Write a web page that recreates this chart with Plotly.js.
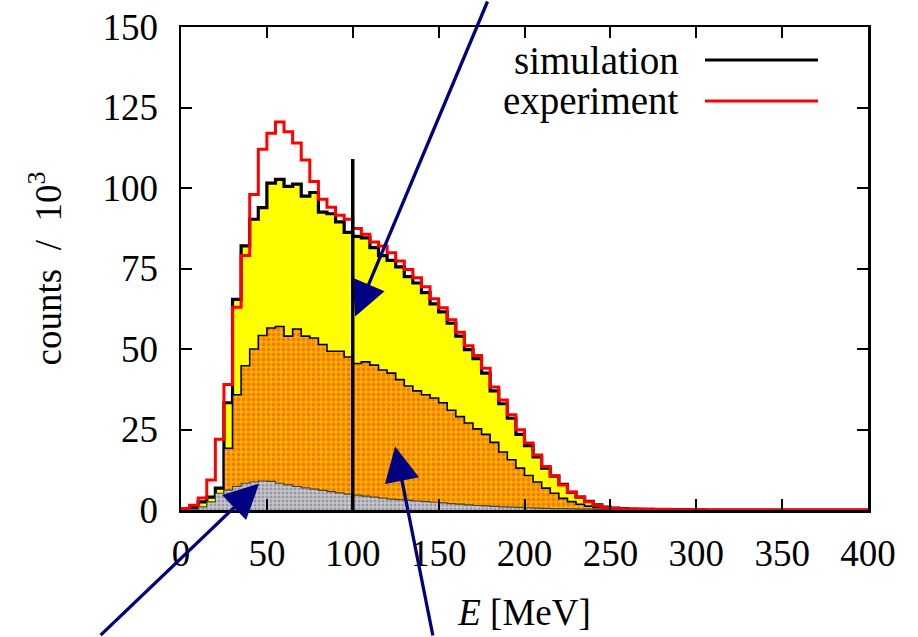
<!DOCTYPE html>
<html><head><meta charset="utf-8">
<script src="https://cdn.plot.ly/plotly-3.0.1.min.js"></script>
<style>html,body{margin:0;padding:0;background:#fff;} #chart{width:918px;height:637px;}</style>
</head><body><div id="chart"></div>
<script>
// bin width 5 MeV, 80 bins from 0 to 400 MeV
const binWidth = 5;
const nBins = 80;
const experiment = [
 0.5,1.5,3.7,9.3,22,39,63,79,98,112,
 117,120.5,117.5,114,108.7,102,96.5,94,91.5,90.3,
 87.4,85.6,83.2,82,79.9,77.3,74.7,72.1,69.3,65.6,
 62.8,59.1,55.2,51,48,44,38.2,34.2,29.6,24.9,
 20.8,17.1,13.5,10.6,7.8,5.6,4,2.6,1.5,0.8,
 0.5,0.4,0.3,0.3,0.2,0.2,0.2,0.1,0.1,0.1,
 0.1,0,0,0,0,0,0,0,0,0,
 0,0,0,0,0,0,0,0,0,0];
const simulation = [
 0.3,0.8,2.5,4,6.8,33.3,65.4,82,90.3,93.9,
 101.5,102.7,100.5,101.2,97.5,98.6,92.5,92,89.5,86.2,
 85,84.5,81.5,79,77.5,75.5,72.5,70.5,67.5,64,
 61.5,58,54,49.8,47,42.5,37,33,28.5,23.5,
 20,16.5,13,10.5,8,5.5,4,2.7,1.6,0.9,
 0.6,0.4,0.3,0.2,0.2,0.1,0.1,0.1,0.1,0.05,
 0.05,0,0,0,0,0,0,0,0,0,
 0,0,0,0,0,0,0,0,0,0];
// cumulative: gray + orange component
const orangeCumulative = [
 0,0,0,0,0,19.2,35.8,44.8,50,54.2,
 56.5,57,54,56.2,54,53.4,51.4,49.3,49.3,47.5,
 45.5,46,45,43.5,42.5,40.5,38.5,37,35.8,34.8,
 33.3,31,29,27,25.2,23.5,21,18,15.6,13,
 10.7,8.7,6.8,5.2,3.6,2.6,1.8,1.2,0.8,0.5,
 0.3,0.2,0.1,0.1,0.05,0.05,0,0,0,0,
 0,0,0,0,0,0,0,0,0,0,
 0,0,0,0,0,0,0,0,0,0];
const grayComponent = [
 0.1,0.3,1,2.5,5.2,6.2,7.3,8.3,8.7,9,
 8.9,8.3,7.8,7.3,6.9,6.5,6.1,5.7,5.3,4.9,
 4.6,4.3,4.0,3.7,3.4,3.2,3.0,2.8,2.6,2.4,
 2.2,2.0,1.8,1.6,1.4,1.3,1.1,1.0,0.9,0.8,
 0.7,0.6,0.5,0.45,0.4,0.35,0.3,0.25,0.2,0.15,
 0.1,0.05,0.05,0,0,0,0,0,0,0,
 0,0,0,0,0,0,0,0,0,0,
 0,0,0,0,0,0,0,0,0,0];
const xTicks = [0,50,100,150,200,250,300,350,400];
const yTicks = [0,25,50,75,100,125,150];
const markerE = 100;
const markerTop = 109;
const legendLabels = ['simulation','experiment'];

const edges = Array.from({length:nBins+1},(_,i)=>i*binWidth);
const stepY = v => v.concat([v[v.length-1]]);

const FONT = 'Liberation Serif, Times New Roman, serif';
const NAVY = '#000080';
const FS = 37;

const traces = [
 {x:edges, y:stepY(simulation), type:'scatter', mode:'lines', line:{shape:'hv', color:'#000', width:3.2},
  fill:'tozeroy', fillcolor:'#ffff00', hoverinfo:'skip'},
 {x:edges, y:stepY(orangeCumulative), type:'scatter', mode:'lines', line:{shape:'hv', color:'#000', width:1.6},
  fill:'tozeroy', fillcolor:'#ffa500',
  fillpattern:{shape:'.', bgcolor:'#ffb000', fgcolor:'#f07c00', size:5, solidity:0.45}, hoverinfo:'skip'},
 {x:edges, y:stepY(grayComponent), type:'scatter', mode:'lines', line:{shape:'hv', color:'#444', width:1.2},
  fill:'tozeroy', fillcolor:'#c0c0c0',
  fillpattern:{shape:'.', bgcolor:'#c8c8c8', fgcolor:'#9898aa', size:4, solidity:0.45}, hoverinfo:'skip'},
 {x:edges, y:stepY(experiment), type:'scatter', mode:'lines', line:{shape:'hv', color:'#ff0000', width:3}, hoverinfo:'skip'},
 {x:[markerE, markerE], y:[0, markerTop], type:'scatter', mode:'lines', line:{color:'#000', width:3.5}, hoverinfo:'skip'}
];

const px = {l:181, r:868, t:27, b:510};
const W = px.r-px.l, H = px.b-px.t;
const paperX = p => (p-px.l)/W;
const paperY = p => (px.b-p)/H;

const arrowStyle = {text:'', showarrow:true, arrowhead:2, arrowsize:2.1, arrowwidth:3.3, arrowcolor:NAVY, standoff:0};
const annotations = [
 {xref:'paper', yref:'paper', x:paperX(681), y:paperY(60), xanchor:'right', yanchor:'middle', text:legendLabels[0], showarrow:false, font:{family:FONT, size:FS+2, color:'#000'}},
 {xref:'paper', yref:'paper', x:paperX(681), y:paperY(101), xanchor:'right', yanchor:'middle', text:legendLabels[1], showarrow:false, font:{family:FONT, size:FS+2, color:'#000'}},
 Object.assign({xref:'x', yref:'y', x:101.4, y:60.1, ax:133, ay:-320}, arrowStyle),
 Object.assign({xref:'x', yref:'y', x:45.5, y:8.2, ax:-160, ay:153}, arrowStyle),
 Object.assign({xref:'x', yref:'y', x:124.7, y:19.7, ax:38, ay:195}, arrowStyle)
];

const shapes = [
 {type:'line', xref:'paper', yref:'paper', x0:paperX(705), x1:paperX(818), y0:paperY(60), y1:paperY(60), line:{color:'#000', width:3}},
 {type:'line', xref:'paper', yref:'paper', x0:paperX(705), x1:paperX(818), y0:paperY(101), y1:paperY(101), line:{color:'#ff0000', width:3}}
];

const layout = {
 width:918, height:637,
 margin:{l:px.l, r:918-px.r, t:px.t, b:637-px.b, pad:0},
 paper_bgcolor:'#fff', plot_bgcolor:'#fff',
 showlegend:false,
 font:{family:FONT, size:FS, color:'#000'},
 xaxis:{range:[0,400], tickvals:xTicks, ticktext:xTicks.map(String), ticks:'inside', ticklen:11, tickwidth:2, tickcolor:'#000',
   showline:true, linewidth:2.5, linecolor:'#000', mirror:'ticks', showgrid:false, zeroline:false, ticklabelstandoff:9,
   tickfont:{family:FONT, size:FS},
   title:{text:'<i>E</i> [MeV]', font:{family:FONT, size:FS}, standoff:26}},
 yaxis:{range:[0,150], tickvals:yTicks, ticktext:yTicks.map(String), ticks:'inside', ticklen:11, tickwidth:2, tickcolor:'#000',
   showline:true, linewidth:2.5, linecolor:'#000', mirror:'ticks', showgrid:false, zeroline:false, ticklabelstandoff:13,
   tickfont:{family:FONT, size:FS},
   title:{text:'counts\u00a0\u00a0/\u00a0\u00a010<sup>3</sup>', font:{family:FONT, size:FS}, standoff:30}},
 annotations:annotations,
 shapes:shapes
};

Plotly.newPlot('chart', traces, layout, {staticPlot:true, displayModeBar:false});
</script>
</body></html>
